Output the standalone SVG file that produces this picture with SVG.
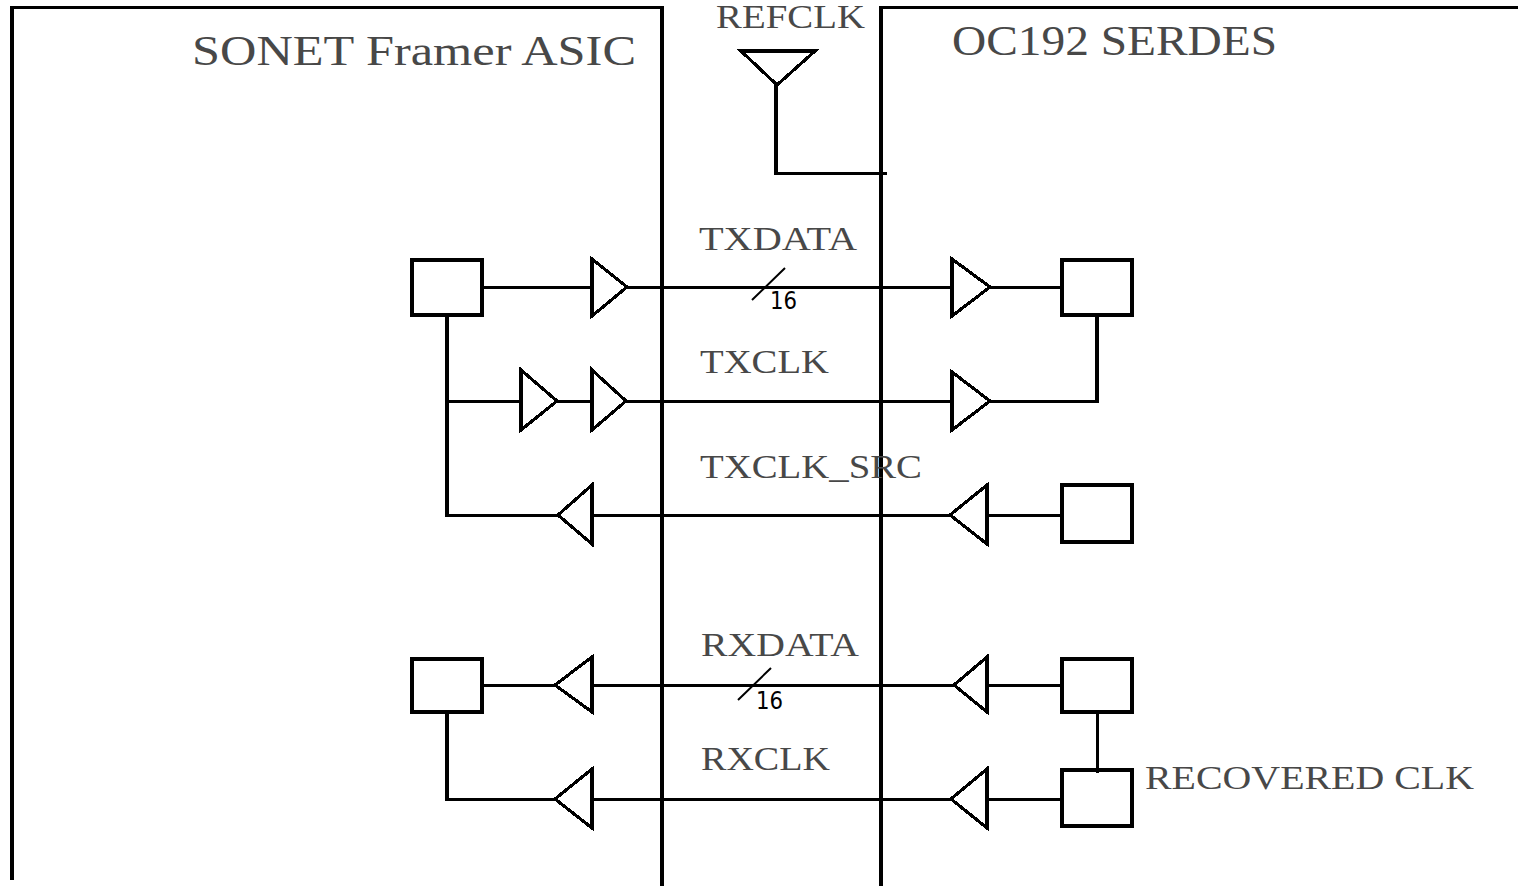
<svg xmlns="http://www.w3.org/2000/svg" width="1518" height="886" viewBox="0 0 1518 886">
<style>
.l{fill:none;stroke:#000;stroke-width:3;shape-rendering:crispEdges}
.v{fill:none;stroke:#000;stroke-width:4;shape-rendering:crispEdges}
.b{fill:#fff;stroke:#000;stroke-width:4;shape-rendering:crispEdges}
.t{fill:none;stroke:#000;stroke-width:3.2;shape-rendering:crispEdges}
text{font-family:"Liberation Serif","Times New Roman",serif;fill:#484848}
.n{font-family:"DejaVu Sans","Liberation Sans",sans-serif;fill:#000;font-size:25px}
</style>
<rect width="1518" height="886" fill="#fff"/>
<g id="frames">
<path class="v" d="M12 880V6M662 6V886M881 886V6"/>
<path class="l" d="M10 7.500H664M879 7.500H1518"/>
</g>
<g id="connectors">
<path class="v" d="M776 85V175" style="stroke-width:3.500"/>
<path class="l" d="M775 173.500H887"/>
<path class="l" d="M483 287.500H593M626 287.500H953M990 287.500H1061"/>
<path class="v" d="M447 316V517"/>
<path class="l" d="M447 515.500H559M592 515.500H951M987 515.500H1061"/>
<path class="l" d="M447 401.500H521M557 401.500H593M627 401.500H953M990 401.500H1098"/>
<path class="v" d="M1097 316V403"/>
<path class="l" d="M483 685.500H556M592 685.500H955M987 685.500H1061"/>
<path class="v" d="M447 713V801"/>
<path class="l" d="M447 799.500H556M592 799.500H952M987 799.500H1061"/>
<path class="t" d="M752 300L785 268M738 700L771 668" style="stroke-width:2;shape-rendering:auto"/>
</g>
<g id="buffers">
<polygon id="refclk-buf" class="t" points="741,51 815,51 777,85"/>
<polygon id="tx-buf1" class="t" points="592,259 627,287 592,316"/>
<polygon id="tx-buf2" class="t" points="521,370 557,401 521,430"/>
<polygon id="tx-buf3" class="t" points="592,370 626,401 592,430"/>
<polygon id="tx-buf4" class="t" points="952,259 990,287 952,316"/>
<polygon id="tx-buf5" class="t" points="952,372 990,401 952,430"/>
<polygon id="src-buf1" class="t" points="592,485 558,515 592,544"/>
<polygon id="src-buf2" class="t" points="987,485 950,515 987,544"/>
<polygon id="rx-buf1" class="t" points="592,657 555,685 592,712"/>
<polygon id="rx-buf2" class="t" points="987,657 954,685 987,712"/>
<polygon id="rx-buf3" class="t" points="592,769 555,799 592,828"/>
<polygon id="rx-buf4" class="t" points="987,769 951,799 987,828"/>
</g>
<g id="box-tx-left"><rect class="b" x="412" y="260" width="70" height="55"/></g>
<g id="box-tx-right"><rect class="b" x="1062" y="260" width="70" height="55"/></g>
<g id="box-src-right"><rect class="b" x="1062" y="485" width="70" height="57"/></g>
<g id="box-rx-left"><rect class="b" x="412" y="659" width="70" height="53"/></g>
<g id="box-rx-right"><rect class="b" x="1062" y="659" width="70" height="53"/></g>
<g id="box-rec-right"><rect class="b" x="1062" y="770" width="70" height="56"/></g>
<path class="v" d="M1097 712V773" style="stroke-width:3"/>
<g id="labels">
<text x="192" y="65" font-size="42" textLength="444" lengthAdjust="spacingAndGlyphs">SONET Framer ASIC</text>
<text x="952" y="55" font-size="42" textLength="325" lengthAdjust="spacingAndGlyphs">OC192 SERDES</text>
<text x="716" y="28" font-size="34" textLength="149" lengthAdjust="spacingAndGlyphs">REFCLK</text>
<text x="699" y="250" font-size="34" textLength="158" lengthAdjust="spacingAndGlyphs">TXDATA</text>
<text x="700" y="373" font-size="34" textLength="129" lengthAdjust="spacingAndGlyphs">TXCLK</text>
<text x="700" y="478" font-size="34" textLength="222" lengthAdjust="spacingAndGlyphs">TXCLK_SRC</text>
<text x="701" y="656" font-size="34" textLength="158" lengthAdjust="spacingAndGlyphs">RXDATA</text>
<text x="701" y="770" font-size="34" textLength="129" lengthAdjust="spacingAndGlyphs">RXCLK</text>
<text x="1145" y="789" font-size="33" textLength="329" lengthAdjust="spacingAndGlyphs">RECOVERED CLK</text>
<text class="n" x="770" y="309" textLength="27" lengthAdjust="spacingAndGlyphs">16</text>
<text class="n" x="756" y="709" textLength="27" lengthAdjust="spacingAndGlyphs">16</text>
</g>
</svg>
